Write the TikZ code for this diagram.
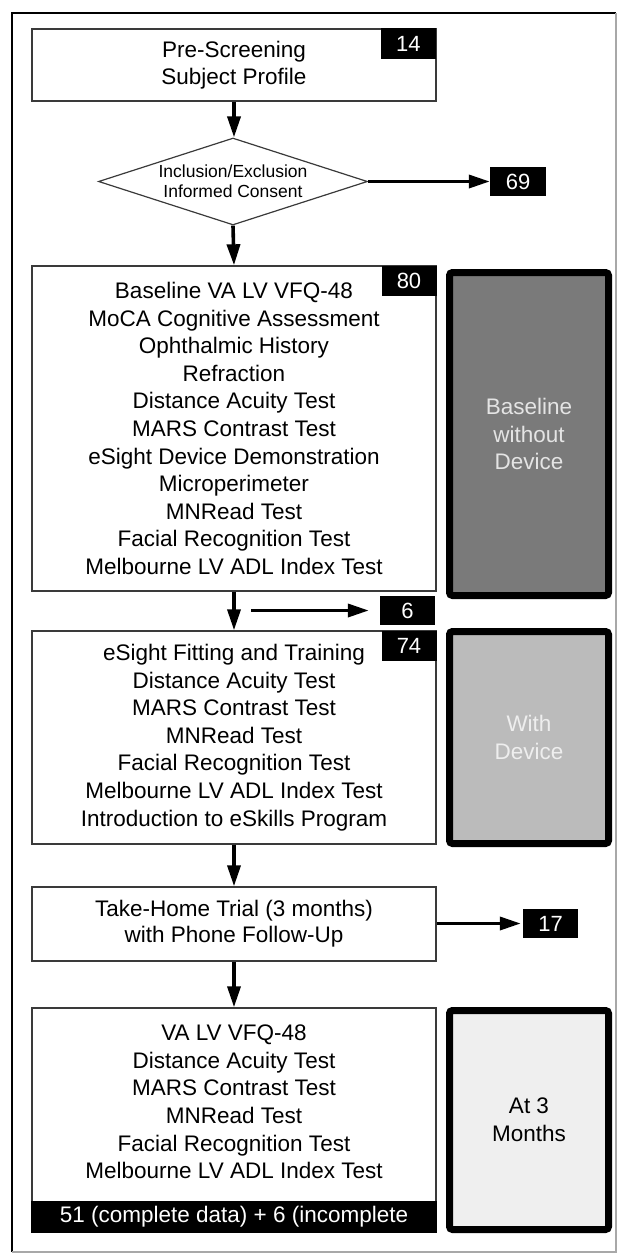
\documentclass[tikz,border=0pt]{standalone}
\usepackage{fontspec}
\setmainfont{Liberation Sans}
\usetikzlibrary{arrows.meta,shapes.geometric}
\newcommand\mainfs{\fontsize{22.5}{27.6}\selectfont}
\newcommand\smallfs{\fontsize{17.5}{20}\selectfont}
\newcommand\numfs{\fontsize{22}{24}\selectfont}
\definecolor{boxline}{HTML}{3A3A3A}
\definecolor{sidedark}{HTML}{7A7A7A}
\definecolor{sidemid}{HTML}{BBBBBB}
\definecolor{sidelight}{HTML}{EFEFEF}
\definecolor{sidetextA}{HTML}{E4E4E4}
\definecolor{sidetextB}{HTML}{EEEEEE}
\definecolor{frameright}{HTML}{A8A8A8}
\begin{document}
\begin{tikzpicture}[x=1pt,y=-1pt,
  box/.style={draw=boxline,line width=1.4pt,fill=white,minimum width=404pt,inner sep=0pt,align=center,font=\mainfs},
  numbox/.style={fill=black,text=white,minimum width=55pt,minimum height=30pt,inner sep=0pt,font=\numfs},
  sidebox/.style={draw=black,line width=7pt,rounded corners=3pt,minimum width=159pt,inner sep=0pt,align=center,font=\mainfs},
  arr/.style={line width=3.6pt,-{Triangle[length=21pt,width=13pt]}},
  txt/.style={align=center,font=\mainfs,inner sep=0pt}
]
\useasboundingbox (0,0) rectangle (619,1254);
% outer frame
\draw[black,line width=2.5pt] (12,1252) -- (12,13) -- (616,13);
\draw[frameright,line width=1.2pt] (616,13) -- (616,1252) -- (12,1252);

% main boxes
\node[box,minimum height=72pt] (b1) at (234,65) {Pre-Screening\\Subject Profile};
\node[numbox,anchor=north east,minimum height=31pt] (n14) at (436,28) {14};

\node[draw=boxline,line width=1.2pt,shape=diamond,minimum width=269pt,minimum height=87pt,inner sep=0pt,fill=white] (dia) at (233,181.5) {};
\node[align=center,font=\smallfs,inner sep=0pt] (diat) at (dia.center) {Inclusion/Exclusion\\Informed Consent};
\node[numbox,minimum width=56pt,minimum height=29pt] (n69) at (518,181.5) {69};

\node[box,minimum height=325pt] (b2) at (234,428.5) {Baseline VA LV VFQ-48\\MoCA Cognitive Assessment\\Ophthalmic History\\Refraction\\Distance Acuity Test\\MARS Contrast Test\\eSight Device Demonstration\\Microperimeter\\MNRead Test\\Facial Recognition Test\\Melbourne LV ADL Index Test};
\node[numbox,anchor=north east] (n80) at (b2.north east) {80};

\node[numbox,minimum height=29pt] (n6) at (407.5,610.5) {6};
\coordinate (c6) at (251,610.5);

\node[box,minimum height=213pt] (b3) at (234,737.5) {eSight Fitting and Training\\Distance Acuity Test\\MARS Contrast Test\\MNRead Test\\Facial Recognition Test\\Melbourne LV ADL Index Test\\Introduction to eSkills Program};
\node[numbox,anchor=north east] (n74) at (b3.north east) {74};

\node[box,minimum height=74pt,font=\fontsize{22.5}{26}\selectfont] (b4) at (234,924) {Take-Home Trial (3 months)\\with Phone Follow-Up};
\node[numbox,minimum height=29pt] (n17) at (550.5,923.5) {17};

\node[box,minimum height=224pt] (b5) at (234,1120) {};
\node[txt] (b5t) at (234,1102) {VA LV VFQ-48\\Distance Acuity Test\\MARS Contrast Test\\MNRead Test\\Facial Recognition Test\\Melbourne LV ADL Index Test};
\node[fill=black,draw=black,line width=1.4pt,text=white,minimum width=404pt,minimum height=30pt,inner sep=0pt,font=\mainfs] (band) at (234,1217) {51 (complete data) + 6 (incomplete};

% side boxes
\node[sidebox,fill=sidedark,text=sidetextA,minimum height=323pt] (s1) at (529,434) {Baseline\\without\\Device};
\node[sidebox,fill=sidemid,text=sidetextB,minimum height=212pt] (s2) at (529,737.5) {With\\Device};
\node[sidebox,fill=sidelight,text=black,minimum height=219pt] (s3) at (529,1120) {At 3\\Months};

% connectors
\draw[arr] (b1.south) -- (b1.south |- dia.north);
\draw[arr] (dia.east) -- (n69.west);
\draw[arr] (dia.south) -- (b2.north);
\draw[arr] (b2.south) -- (b3.north);
\draw[arr,shorten >=11pt] (c6) -- (n6.west);
\draw[arr] (b3.south) -- (b4.north);
\draw[arr,shorten >=2pt] (b4.east |- n17.west) -- (n17.west);
\draw[arr] (b4.south) -- (b5.north);
\end{tikzpicture}
\end{document}
